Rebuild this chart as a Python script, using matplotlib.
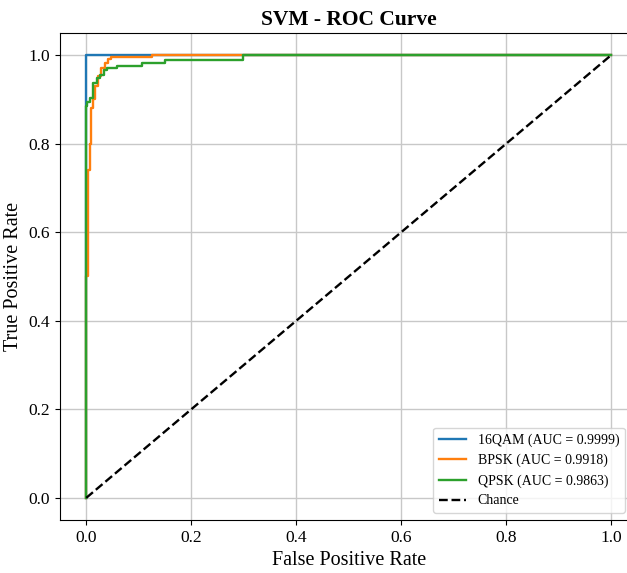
import matplotlib.pyplot as plt

plt.rcParams['font.family'] = ['Liberation Serif', 'DejaVu Serif']

# ROC points (fpr, tpr)
fpr_16qam = [0.0, 0.0, 0.0, 0.12, 1.0]
tpr_16qam = [0.0, 0.89, 1.0, 1.0, 1.0]

fpr_bpsk = [0.0, 0.0, 0.004, 0.004, 0.007, 0.007, 0.009, 0.009, 0.012, 0.012,
            0.017, 0.017, 0.023, 0.023, 0.029, 0.029, 0.036, 0.036, 0.042, 0.042,
            0.048, 0.048, 0.125, 0.125, 1.0]
tpr_bpsk = [0.0, 0.5, 0.5, 0.74, 0.74, 0.80, 0.80, 0.88, 0.88, 0.90,
            0.90, 0.93, 0.93, 0.953, 0.953, 0.971, 0.971, 0.982, 0.982, 0.991,
            0.991, 0.996, 0.996, 1.0, 1.0]

fpr_qpsk = [0.0, 0.0, 0.002, 0.002, 0.007, 0.007, 0.013, 0.013, 0.02, 0.02,
            0.026, 0.026, 0.033, 0.033, 0.039, 0.039, 0.058, 0.058, 0.106, 0.106,
            0.15, 0.15, 0.298, 0.298, 1.0]
tpr_qpsk = [0.0, 0.885, 0.885, 0.893, 0.893, 0.903, 0.903, 0.937, 0.937, 0.948,
            0.948, 0.956, 0.956, 0.967, 0.967, 0.971, 0.971, 0.976, 0.976, 0.983,
            0.983, 0.989, 0.989, 1.0, 1.0]

labels = ['16QAM (AUC = 0.9999)', 'BPSK (AUC = 0.9918)', 'QPSK (AUC = 0.9863)']
chance = [0.0, 1.0]

fig = plt.figure(figsize=(6.27, 5.73), dpi=100)
ax = fig.add_axes([0.0957, 0.0925, 0.921, 0.85])

ax.plot(fpr_16qam, tpr_16qam, color='#1f77b4', lw=1.7, label=labels[0])
ax.plot(fpr_bpsk, tpr_bpsk, color='#ff7f0e', lw=1.7, label=labels[1])
ax.plot(fpr_qpsk, tpr_qpsk, color='#2ca02c', lw=1.7, label=labels[2])
ax.plot(chance, chance, 'k--', lw=1.7, label='Chance')

ax.set_xlim(-0.05, 1.05)
ax.set_ylim(-0.05, 1.05)
ax.grid(True, color='#c8c8c8', lw=1.0)
ax.tick_params(labelsize=12.5)
ax.set_xlabel('False Positive Rate', fontsize=14.5)
ax.set_ylabel('True Positive Rate', fontsize=14.5)
ax.set_title('SVM - ROC Curve', fontsize=15.5, fontweight='bold')
ax.legend(loc='lower right', fontsize=10, bbox_to_anchor=(0.99, 0.0))

fig.savefig('out.png', dpi=100)
